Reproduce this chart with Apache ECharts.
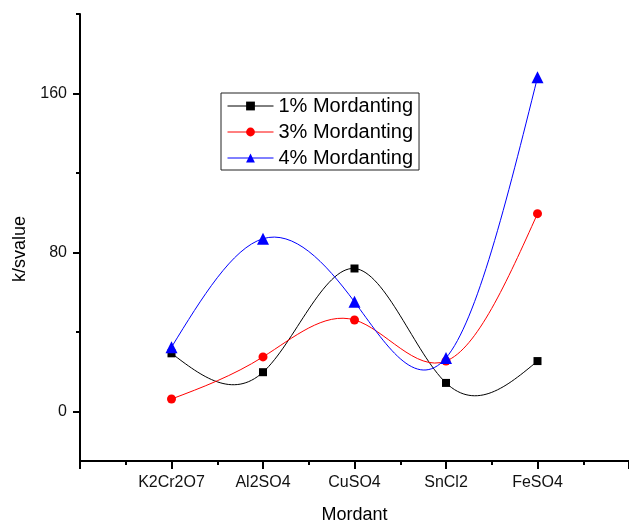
<!DOCTYPE html>
<html>
<head>
<meta charset="utf-8">
<script src="https://cdn.jsdelivr.net/npm/echarts@6/dist/echarts.min.js"></script>
<style>
html,body{margin:0;padding:0;background:#fff;}
#c{width:629px;height:521px;}
</style>
</head>
<body>
<div id="c"></div>
<script>
var categories = ['K2Cr2O7', 'Al2SO4', 'CuSO4', 'SnCl2', 'FeSO4'];
var mord1 = [29.2, 19.7, 71.9, 14.3, 25.3];
var mord3 = [6.2, 27.4, 46.0, 25.3, 99.5];
var mord4 = [32.3, 86.9, 55.1, 26.9, 168.1];
var yMajorTicks = [0, 80, 160];
var yMinorTicks = [40, 120, 200];
var seriesNames = ['1% Mordanting', '3% Mordanting', '4% Mordanting'];
var colors = ['#000000', '#ff0000', '#0000ff'];
var symbols = ['rect', 'circle', 'triangle'];
var symbolSizes = [8, 9, 12];

function pts(arr) {
  return arr.map(function (v, i) { return [i + 1, v]; });
}

// Natural cubic spline slopes (unit spacing), as Origin's spline connector draws
function splineSlopes(y) {
  var n = y.length, M = new Array(n).fill(0);
  if (n > 2) {
    var a = [], b = [], c = [], d = [];
    for (var i = 1; i < n - 1; i++) {
      a.push(1); b.push(4); c.push(1);
      d.push(6 * (y[i + 1] - 2 * y[i] + y[i - 1]));
    }
    var m = b.length;
    for (var k = 1; k < m; k++) {
      var w = a[k] / b[k - 1];
      b[k] -= w * c[k - 1];
      d[k] -= w * d[k - 1];
    }
    var sol = new Array(m);
    sol[m - 1] = d[m - 1] / b[m - 1];
    for (var k2 = m - 2; k2 >= 0; k2--) sol[k2] = (d[k2] - c[k2] * sol[k2 + 1]) / b[k2];
    for (var j = 0; j < m; j++) M[j + 1] = sol[j];
  }
  var s = [];
  for (var i2 = 0; i2 < n - 1; i2++) s.push((y[i2 + 1] - y[i2]) - (2 * M[i2] + M[i2 + 1]) / 6);
  s.push((y[n - 1] - y[n - 2]) + (M[n - 2] + 2 * M[n - 1]) / 6);
  return s;
}

function curveSeries(arr, color) {
  var slopes = splineSlopes(arr);
  return {
    type: 'custom',
    silent: true,
    z: 1,
    data: pts(arr),
    encode: {x: 0, y: 1},
    renderItem: function (params, api) {
      var i = params.dataIndex;
      if (i >= arr.length - 1) return null;
      var x0 = i + 1, x1 = i + 2;
      var p0 = api.coord([x0, arr[i]]);
      var p1 = api.coord([x1, arr[i + 1]]);
      var c0 = api.coord([x0 + 1 / 3, arr[i] + slopes[i] / 3]);
      var c1 = api.coord([x1 - 1 / 3, arr[i + 1] - slopes[i + 1] / 3]);
      return {
        type: 'bezierCurve',
        shape: {x1: p0[0], y1: p0[1], x2: p1[0], y2: p1[1], cpx1: c0[0], cpy1: c0[1], cpx2: c1[0], cpy2: c1[1]},
        style: {stroke: color, lineWidth: 1, fill: null}
      };
    }
  };
}

function markerSeries(idx, arr) {
  return {
    name: seriesNames[idx],
    type: 'line',
    z: 3,
    data: pts(arr),
    symbol: symbols[idx],
    symbolSize: symbolSizes[idx],
    itemStyle: {color: colors[idx]},
    lineStyle: {color: colors[idx], width: 1, opacity: 0}
  };
}

var chart = echarts.init(document.getElementById('c'), null, {renderer: 'canvas'});
var font = 'Arial, "Liberation Sans", sans-serif';
var axisLineStyle = {color: '#000', width: 2};

chart.setOption({
  animation: false,
  backgroundColor: '#fff',
  textStyle: {fontFamily: font},
  grid: {left: 80, right: 0, top: 14, bottom: 60, containLabel: false, outerBoundsMode: 'none'},
  legend: {
    orient: 'vertical',
    left: 221,
    top: 93,
    padding: [3, 6, 2, 6],
    itemGap: 6,
    itemWidth: 46,
    itemHeight: 11,
    borderColor: '#222',
    borderWidth: 1,
    borderRadius: 0,
    textStyle: {fontSize: 20, color: '#000', fontFamily: font, padding: [0, 0, 0, 0]},
    data: seriesNames.map(function (n, i) {
      return {name: n, lineStyle: {color: colors[i], width: 1, opacity: 1}};
    })
  },
  xAxis: {
    type: 'value',
    min: 0,
    max: 6,
    interval: 1,
    name: 'Mordant',
    nameLocation: 'middle',
    nameGap: 45,
    nameTextStyle: {fontSize: 18, color: '#000', fontFamily: font},
    splitLine: {show: false},
    axisLine: {show: true, onZero: false, lineStyle: axisLineStyle},
    axisTick: {show: true, inside: false, length: 8, lineStyle: {color: '#000', width: 2}},
    minorTick: {show: true, splitNumber: 2, length: 4, lineStyle: {color: '#000', width: 2}},
    minorSplitLine: {show: false},
    axisLabel: {
      fontSize: 16, color: '#111', margin: 14, fontFamily: font,
      formatter: function (v) {
        var i = Math.round(v) - 1;
        return (i >= 0 && i < categories.length) ? categories[i] : '';
      }
    }
  },
  yAxis: [{
    type: 'value',
    min: -25,
    max: 200,
    name: 'k/svalue',
    nameLocation: 'middle',
    nameGap: 50,
    nameTextStyle: {fontSize: 18, color: '#000', fontFamily: font, padding: [0, 23, 0, 0]},
    splitLine: {show: false},
    axisLine: {show: true, onZero: false, lineStyle: axisLineStyle},
    axisTick: {show: true, inside: false, length: 7, customValues: yMajorTicks, lineStyle: {color: '#000', width: 2}},
    axisLabel: {fontSize: 16, color: '#111', margin: 13, fontFamily: font, customValues: yMajorTicks}
  }, {
    type: 'value',
    position: 'left',
    min: -25,
    max: 200,
    splitLine: {show: false},
    axisLine: {show: false},
    axisTick: {show: true, inside: false, length: 4, customValues: yMinorTicks, lineStyle: {color: '#000', width: 2}},
    axisLabel: {show: false, customValues: yMinorTicks}
  }],
  series: [
    curveSeries(mord1, colors[0]),
    curveSeries(mord3, colors[1]),
    curveSeries(mord4, colors[2]),
    markerSeries(0, mord1),
    markerSeries(1, mord3),
    markerSeries(2, mord4)
  ]
});
</script>
</body>
</html>
